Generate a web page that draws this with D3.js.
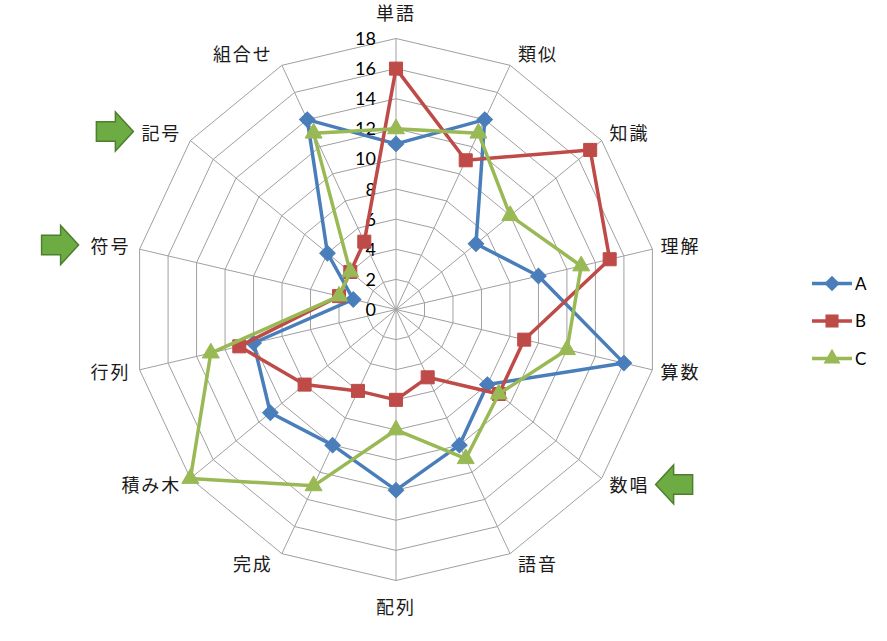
<!DOCTYPE html>
<html>
<head>
<meta charset="utf-8">
<script src="https://cdn.jsdelivr.net/npm/d3@7"></script>
<style>
  body { margin: 0; background: #fff; }
  svg { display: block; }
</style>
</head>
<body>
<div id="chart"></div>
<script>
// data
const categories = ['単語', '類似', '知識', '理解', '算数', '数唱', '語音', '配列', '完成', '積み木', '行列', '符号', '記号', '組合せ'];
const seriesA = [11, 14, 7, 10, 16, 8, 10, 12, 10, 11, 10, 3, 6, 14];
const seriesB = [16, 11, 17, 15, 9, 9, 5, 6, 6, 8, 11, 4, 4, 5];
const seriesC = [12, 13, 10, 13, 12, 9, 11, 8, 13, 18, 13, 4, 4, 13];
const seriesNames = ['A', 'B', 'C'];
const tickValues = [0, 2, 4, 6, 8, 10, 12, 14, 16, 18];
const arrowMarks = [
    { cat: '記号', dir: 'right' },
    { cat: '符号', dir: 'right' },
    { cat: '数唱', dir: 'left' }
];

let svgWidth = 887;
let svgHeight = 641;

let cx = 396, cy = 309.5;
let xStretch = 263 / 271;

let svg = d3.select('#chart').append('svg')
    .attr('width', svgWidth)
    .attr('height', svgHeight);

let rScale = d3.scaleLinear().domain([0, 18]).range([0, 271]);
let angle = d3.scaleLinear().domain([0, categories.length]).range([0, 2 * Math.PI]);

function px(i, v) { return cx + rScale(v) * xStretch * Math.sin(angle(i)); }
function py(i, v) { return cy - rScale(v) * Math.cos(angle(i)); }

let idx = d3.range(categories.length);

// grid rings
let gridGroup = svg.append('g');
tickValues.filter(t => t > 0).forEach(t => {
    gridGroup.append('path')
        .attr('d', d3.line().x(i => px(i, t)).y(i => py(i, t)).curve(d3.curveLinearClosed)(idx))
        .attr('fill', 'none')
        .attr('stroke', '#a0a0a0')
        .attr('stroke-width', 1);
});
// spokes
gridGroup.selectAll('line.spoke').data(idx).enter().append('line')
    .attr('x1', cx).attr('y1', cy)
    .attr('x2', i => px(i, 18)).attr('y2', i => py(i, 18))
    .attr('stroke', '#a0a0a0')
    .attr('stroke-width', 1);

// tick labels
svg.append('g').selectAll('text').data(tickValues).enter().append('text')
    .attr('x', 376)
    .attr('y', t => cy - rScale(t))
    .attr('dy', '0.36em')
    .attr('text-anchor', 'end')
    .attr('font-family', 'Lato, "Open Sans", sans-serif')
    .attr('font-size', 18)
    .attr('fill', '#000')
    .text(t => t);

// category labels
let catLabels = svg.append('g').selectAll('text').data(idx).enter().append('text')
    .attr('x', i => {
        let s = Math.sin(angle(i));
        if (Math.abs(s) < 0.1) return px(i, 18);
        return px(i, 18) + (s > 0 ? 8 : -9);
    })
    .attr('y', i => {
        let c = Math.cos(angle(i));
        if (c > 0.99) return py(i, 18) - 25;
        if (c < -0.99) return py(i, 18) + 27;
        return py(i, 18) - c * 12;
    })
    .attr('dy', '0.36em')
    .attr('text-anchor', i => {
        let s = Math.sin(angle(i));
        if (Math.abs(s) < 0.1) return 'middle';
        return s > 0 ? 'start' : 'end';
    })
    .attr('font-family', '"Noto Sans CJK JP", sans-serif')
    .attr('font-size', 18)
    .attr('letter-spacing', 2)
    .attr('fill', '#1a1a1a')
    .text(i => categories[i]);

// series
let allSeries = [seriesA, seriesB, seriesC];
let colors = ['#4a7ebb', '#be4b48', '#98b954'];
let symbols = [
    d3.symbol().type(d3.symbolSquare).size(120),
    d3.symbol().type(d3.symbolSquare).size(170),
    d3.symbol().type(d3.symbolTriangle).size(125)
];
let symRotate = [45, 0, 0];

let radarLine = d3.line()
    .x((v, i) => px(i, v))
    .y((v, i) => py(i, v))
    .curve(d3.curveLinearClosed);

allSeries.forEach((vals, s) => {
    let g = svg.append('g');
    g.append('path')
        .attr('d', radarLine(vals))
        .attr('fill', 'none')
        .attr('stroke', colors[s])
        .attr('stroke-width', 3.5)
        .attr('stroke-linejoin', 'round');
    g.selectAll('path.marker').data(vals).enter().append('path')
        .attr('class', 'marker')
        .attr('d', symbols[s])
        .attr('transform', (v, i) => `translate(${px(i, v)},${py(i, v)}) rotate(${symRotate[s]})`)
        .attr('fill', colors[s])
        .attr('stroke', colors[s])
        .attr('stroke-width', 1);
});

// legend
let legend = svg.append('g');
seriesNames.forEach((name, s) => {
    let ly = 283.5 + s * 37.5;
    legend.append('line')
        .attr('x1', 812).attr('x2', 852)
        .attr('y1', ly).attr('y2', ly)
        .attr('stroke', colors[s])
        .attr('stroke-width', 3.5);
    legend.append('path')
        .attr('d', symbols[s])
        .attr('transform', `translate(832,${ly}) rotate(${symRotate[s]})`)
        .attr('fill', colors[s]);
    legend.append('text')
        .attr('x', 855)
        .attr('y', ly)
        .attr('dy', '0.36em')
        .attr('font-family', 'Lato, "Open Sans", sans-serif')
        .attr('font-size', 17)
        .attr('fill', '#000')
        .text(name);
});

// green arrows next to some labels
let arrowShape = 'M0,-9.7 L19,-9.7 L19,-19.5 L37,0 L19,19.5 L19,9.7 L0,9.7 Z';
arrowMarks.forEach(a => {
    let i = categories.indexOf(a.cat);
    let box = catLabels.filter(d => d === i).node().getBBox();
    let midY = box.y + box.height / 2;
    let tx, rot;
    if (a.dir === 'right') {
        tx = box.x - (a.cat === '符号' ? 12 : 8) - 37;
        rot = 0;
    } else {
        tx = box.x + box.width + 6 + 37;
        rot = 180;
    }
    svg.append('path')
        .attr('d', arrowShape)
        .attr('transform', `translate(${tx},${midY}) rotate(${rot})`)
        .attr('fill', '#6dab43')
        .attr('stroke', '#4e7f2f')
        .attr('stroke-width', 1.5);
});
</script>
</body>
</html>
